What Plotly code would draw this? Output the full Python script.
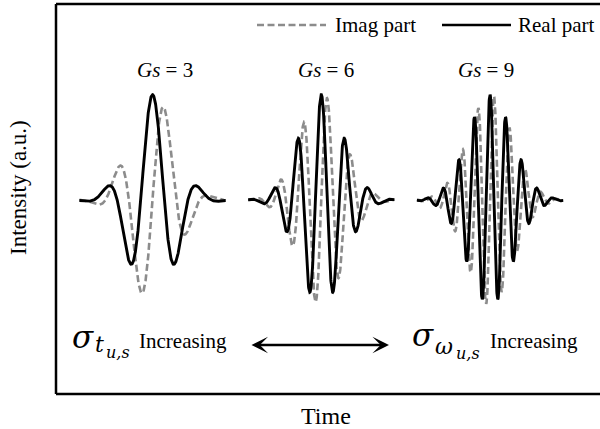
import numpy as np
import plotly.graph_objects as go

# Morlet-type wavelets: one per Gs value, Gaussian envelope of fixed width
gs_values = [3, 6, 9]
gs_labels = ["<i>Gs</i> = 3", "<i>Gs</i> = 6", "<i>Gs</i> = 9"]
series_names = ["Imag part", "Real part"]

# layout geometry (pixels in a 600 x 429 canvas)
W, H = 600, 429
M_L, M_R, M_T, M_B = 56, 0, 4, 35
PW, PH = W - M_L - M_R, H - M_T - M_B

half_span = 3.25      # each wavelet drawn over t in [-3.25, 3.25] (envelope sigma units)
spacing = 7.5         # distance between wavelet centres along the time axis
x_range = [-4.29, -4.29 + PW / 22.5]
y_range = [-1.84, 1.86]

SERIF = "Liberation Serif"
MATH = "DejaVu Serif"
IMAG_STYLE = dict(color="#8c8c8c", width=2.6, dash="7px,3.5px")
REAL_STYLE = dict(color="black", width=2.9)


def px(xp):
    return (xp - M_L) / PW


def py(yp):
    return (H - M_B - yp) / PH


fig = go.Figure()

t = np.linspace(-half_span, half_span, 900)
env = np.exp(-t ** 2 / 2)
for i, gs in enumerate(gs_values):
    fig.add_trace(go.Scatter(
        x=t + i * spacing, y=np.sin(gs * t) * env, mode="lines",
        name=series_names[0], line=IMAG_STYLE, showlegend=False))
for i, gs in enumerate(gs_values):
    fig.add_trace(go.Scatter(
        x=t + i * spacing, y=np.cos(gs * t) * env, mode="lines",
        name=series_names[1], line=REAL_STYLE, showlegend=False))

annotations = []
shapes = []

# key: line sample followed by its name
for name, style, x0, x1, xtext in [(series_names[0], IMAG_STYLE, 257, 326, 333),
                                   (series_names[1], REAL_STYLE, 442, 511, 516)]:
    shapes.append(dict(type="line", xref="paper", yref="paper",
                       x0=px(x0), x1=px(x1), y0=py(25), y1=py(25),
                       line=dict(color=style["color"], width=style["width"] - 0.3,
                                 dash=style.get("dash", "solid"))))
    annotations.append(dict(xref="paper", yref="paper", x=px(xtext), y=py(25),
                            text=name, showarrow=False, xanchor="left", yanchor="middle",
                            font=dict(family=SERIF, size=21, color="black")))

# Gs labels above each wavelet
for lab, xpix in zip(gs_labels, [164.8, 325.8, 485.8]):
    annotations.append(dict(xref="paper", yref="paper", x=px(xpix), y=py(70),
                            text=lab, showarrow=False, xanchor="center", yanchor="middle",
                            font=dict(family=SERIF, size=21, color="black")))


# time-frequency resolution note along the bottom
def math_label(parts):
    for txt, xpix, ypix, size in parts:
        annotations.append(dict(xref="paper", yref="paper", x=px(xpix), y=py(ypix),
                                text=txt, showarrow=False, xanchor="left", yanchor="middle",
                                font=dict(family=MATH, size=size, color="black")))


math_label([("<i>σ</i>", 70, 337, 31), ("<i>t</i>", 93, 344, 22), ("<i>u,s</i>", 104, 352, 16)])
math_label([("<i>σ</i>", 410, 335, 31), ("<i>ω</i>", 433, 346, 22), ("<i>u,s</i>", 454, 353, 16)])
for xpix in [137, 488]:
    annotations.append(dict(xref="paper", yref="paper", x=px(xpix), y=py(341),
                            text="Increasing", showarrow=False, xanchor="left", yanchor="middle",
                            font=dict(family=SERIF, size=21, color="black")))

# double-headed arrow
annotations.append(dict(xref="paper", yref="paper",
                        x=px(389), y=py(345), ax=-(389 - 250), ay=0, text="",
                        showarrow=True, arrowhead=3, startarrowhead=3, arrowside="end+start",
                        arrowwidth=2.4, arrowsize=1.15, startarrowsize=1.15, arrowcolor="black",
                        standoff=0, startstandoff=0))

# axis titles
annotations.append(dict(xref="paper", yref="paper", x=px(326), y=py(416), text="Time",
                        showarrow=False, xanchor="center", yanchor="middle",
                        font=dict(family=SERIF, size=24, color="black")))
annotations.append(dict(xref="paper", yref="paper", x=px(18), y=py(188), text="Intensity (a.u.)",
                        showarrow=False, xanchor="center", yanchor="middle", textangle=-90,
                        font=dict(family=SERIF, size=23, color="black")))

# frame (left, top, bottom)
for x0, x1, y0, y1 in [(0, 0, 0, 1), (0, 1.02, 1, 1), (0, 1.02, 0, 0)]:
    shapes.append(dict(type="line", xref="paper", yref="paper", x0=x0, x1=x1, y0=y0, y1=y1,
                       line=dict(color="black", width=2.5)))

fig.update_layout(
    width=W, height=H,
    margin=dict(l=M_L, r=M_R, t=M_T, b=M_B),
    paper_bgcolor="white", plot_bgcolor="white",
    xaxis=dict(range=x_range, visible=False, fixedrange=True),
    yaxis=dict(range=y_range, visible=False, fixedrange=True),
    showlegend=False,
    annotations=annotations,
    shapes=shapes,
)

fig.write_html("out.html")
